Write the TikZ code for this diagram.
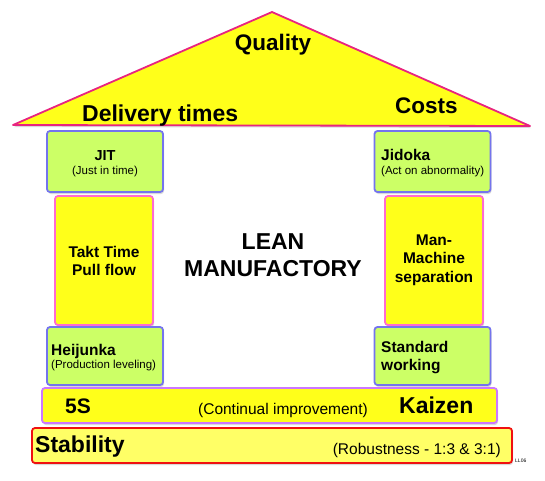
\documentclass[tikz,border=0pt]{standalone}
\usepackage{fontspec}
\setmainfont{Liberation Sans}
\usetikzlibrary{shadows}
\definecolor{roofyellow}{HTML}{FFFF1A}
\definecolor{roofpink}{HTML}{E8247F}
\definecolor{leafgreen}{HTML}{CCFF66}
\definecolor{boxblue}{HTML}{7474EE}
\definecolor{pillarpink}{HTML}{FF6AD0}
\definecolor{barviolet}{HTML}{CC77FF}
\definecolor{paleyellow}{HTML}{FFFF66}
\definecolor{barred}{HTML}{F01010}
\newcommand{\fsz}[1]{\fontsize{#1}{1.2\dimexpr#1pt\relax}\selectfont}
\tikzset{
  shade/.style={drop shadow={opacity=0.3,shadow xshift=1pt,shadow yshift=-2pt}},
  greenbox/.style={draw=boxblue,fill=leafgreen,line width=1.8pt,rounded corners=3pt,
    minimum width=116pt,minimum height=#1,inner sep=0pt,shade},
  pillar/.style={draw=pillarpink,fill=roofyellow,line width=1.8pt,rounded corners=3pt,
    minimum width=98pt,minimum height=129pt,inner sep=0pt,align=center,shade},
  bar/.style={rounded corners=3pt,minimum height=35pt,inner sep=0pt,line width=1.8pt,shade},
  big/.style={font=\bfseries\fsz{22.5},inner sep=0pt},
  mid/.style={font=\bfseries\fsz{15.5},inner sep=0pt},
  small/.style={font=\fsz{11.5},inner sep=0pt},
}
\begin{document}
\begin{tikzpicture}[x=1pt,y=-1pt]
  \useasboundingbox (0,0) rectangle (545,480);
  % roof
  \draw[roofpink,fill=roofyellow,line width=1.8pt,line join=round,shade]
    (13,125) -- (272,12) -- (530,126) -- cycle;
  \node[big,anchor=base] (quality) at (273,50) {Quality};
  \node[big,font=\bfseries\fsz{23},anchor=base west] (delivery) at (82,121) {Delivery times};
  \node[big,anchor=base west] (costs) at (395,113) {Costs};
  % left pillar
  \node[greenbox=61pt] (jit) at (105,161.5) {};
  \node[pillar] (takt) at (104,260.5) {};
  \node[greenbox=58pt] (heijunka) at (105,356) {};
  \node[mid,font=\bfseries\fsz{14.5},anchor=base] (jitname) at (105,160) {JIT};
  \node[small,anchor=base] (jitsub) at (105,174.5) {(Just in time)};
  \node[mid,align=center] (tokt) at (104,261) {Takt Time\\Pull flow};
  \node[mid,anchor=base west] (heiname) at (51,355) {Heijunka};
  \node[small,anchor=base west] (heisub) at (51,368.5) {(Production leveling)};
  % right pillar
  \node[greenbox=61pt] (jidoka) at (432.5,161.5) {};
  \node[pillar] (manmach) at (434,260.5) {};
  \node[greenbox=58pt] (standard) at (432.5,356) {};
  \node[mid,anchor=base west] (jidname) at (381,160) {Jidoka};
  \node[small,anchor=base west] (jidsub) at (381,174.5) {(Act on abnormality)};
  \node[mid,align=center] (mmtext) at (434,260) {Man-\\Machine\\separation};
  \node[mid,anchor=base west] (stdname) at (381,352) {Standard};
  \node[mid,anchor=base west] (stdname2) at (381,370) {working};
  % centre
  \node[font=\bfseries\fsz{23},align=center] (lean) at (273,255) {LEAN\\MANUFACTORY};
  % base bars
  \node[bar,draw=barviolet,fill=roofyellow,minimum width=455pt] (kaizen) at (269.5,405.5) {};
  \node[bar,draw=barred,fill=paleyellow,minimum width=480pt] (stability) at (272,445.5) {};
  \node[font=\bfseries\fsz{21},inner sep=0pt,anchor=base west] (fives) at (65,413) {5S};
  \node[font=\fsz{15.5},inner sep=0pt,anchor=base] (contin) at (283,414) {(Continual improvement)};
  \node[font=\bfseries\fsz{23},inner sep=0pt,anchor=base west] (kainame) at (399,413) {Kaizen};
  \node[font=\bfseries\fsz{23},inner sep=0pt,anchor=base west] (stabname) at (35,452) {Stability};
  \node[font=\fsz{15.5},inner sep=0pt,anchor=base east] (robust) at (501,454) {(Robustness - 1:3 \& 3:1)};
  \node[font=\fsz{5},inner sep=0pt,anchor=base west] (tag) at (515,462) {LL06};
\end{tikzpicture}
\end{document}
